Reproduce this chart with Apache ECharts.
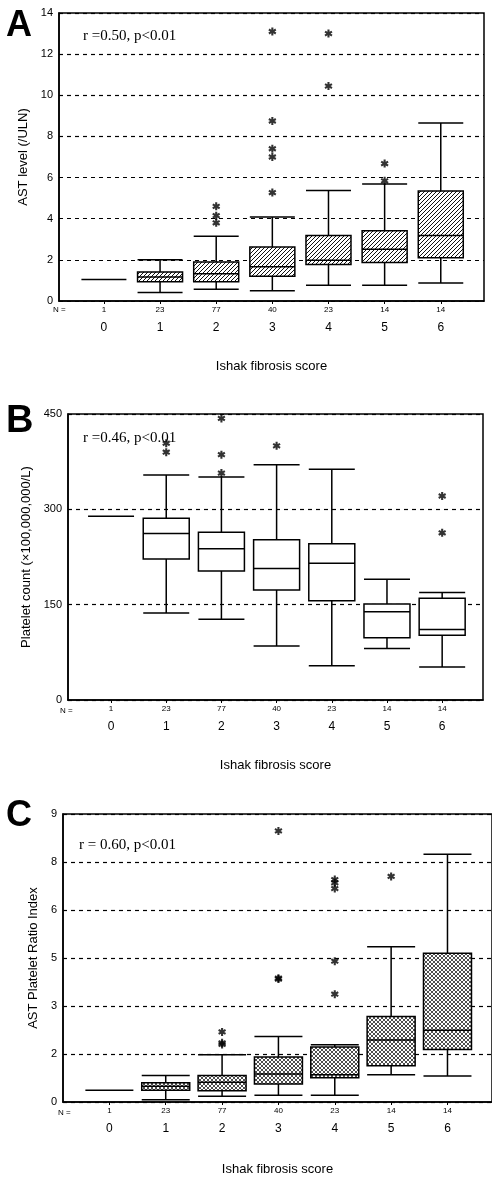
<!DOCTYPE html>
<html>
<head>
<meta charset="utf-8">
<script src="https://cdn.jsdelivr.net/npm/echarts@6/dist/echarts.min.js"></script>
<style>
html,body{margin:0;padding:0;background:#fff;}
#chart{width:492px;height:1179px;}
</style>
</head>
<body>
<div id="chart"></div>
<script>
// ---------- data ----------
const categories = [0, 1, 2, 3, 4, 5, 6];
const nCounts = [1, 23, 77, 40, 23, 14, 14];

// AST level (/ULN): [min, Q1, median, Q3, max]
const astBoxes = [
  [1.05, 1.05, 1.05, 1.05, 1.05],
  [0.41, 0.93, 1.17, 1.41, 2.0],
  [0.57, 0.93, 1.33, 1.89, 3.15],
  [0.5, 1.2, 1.66, 2.63, 4.08],
  [0.76, 1.77, 1.98, 3.19, 5.37],
  [0.76, 1.87, 2.52, 3.41, 5.69],
  [0.88, 2.1, 3.19, 5.35, 8.65]
];
const astOutCat = [2, 2, 2, 3, 3, 3, 3, 3, 4, 4, 5, 5];
const astOutVal = [4.6, 4.15, 3.8, 13.1, 8.75, 7.4, 7.0, 5.27, 13.0, 10.45, 6.68, 5.84];

// Platelet count (x100,000,000/L)
const pltBoxes = [
  [289, 289, 289, 289, 289],
  [137, 222, 262, 286, 354],
  [127, 203, 238, 264, 351],
  [85, 173, 207, 252, 370],
  [54, 156, 215, 246, 363],
  [81, 98, 139, 151, 190],
  [52, 102, 111, 160, 169]
];
const pltOutCat = [1, 1, 2, 2, 2, 3, 6, 6];
const pltOutVal = [404, 390, 443, 386, 357, 400, 321, 263];

// AST Platelet Ratio Index (axis scale 0-9, ticks every 1.5)
const apriBoxes = [
  [0.365, 0.365, 0.365, 0.365, 0.365],
  [0.07, 0.365, 0.49, 0.6, 0.83],
  [0.18, 0.355, 0.615, 0.83, 1.48],
  [0.21, 0.56, 0.875, 1.41, 2.05],
  [0.21, 0.76, 0.855, 1.72, 1.79],
  [0.855, 1.13, 1.94, 2.67, 4.85],
  [0.81, 1.64, 2.24, 4.65, 7.74]
];
const apriOutCat = [2, 2, 2, 3, 3, 3, 4, 4, 4, 4, 4, 5];
const apriOutVal = [2.19, 1.85, 1.8, 8.47, 3.84, 3.87, 6.95, 6.85, 6.67, 4.4, 3.37, 7.05];
const apriTickLabels = ['0', '2', '3', '5', '6', '8', '9'];

// ---------- helpers ----------
const SANS = 'Liberation Sans, Arial, sans-serif';
const SERIF = 'Liberation Serif, Times New Roman, serif';

function hatch(size, dirs, color, lw) {
  const c = document.createElement('canvas');
  c.width = c.height = size;
  const g = c.getContext('2d');
  g.fillStyle = '#fff';
  g.fillRect(0, 0, size, size);
  g.strokeStyle = color;
  g.lineWidth = lw;
  g.beginPath();
  if (dirs.indexOf('/') >= 0) {
    for (let k = 0; k <= 2; k++) {
      g.moveTo(-1, k * size + 1);
      g.lineTo(size + 1, k * size - size - 1);
    }
  }
  if (dirs.indexOf('\\') >= 0) {
    for (let k = -1; k <= 1; k++) {
      g.moveTo(-1, -1 + k * size);
      g.lineTo(size + 1, size + 1 + k * size);
    }
  }
  g.stroke();
  return { image: c, repeat: 'repeat' };
}

const ASTERISK = 'path://M1.3,5L-1.3,5L-1.3,2.252L-3.68,3.626L-4.98,1.374L-2.6,0' +
  'L-4.98,-1.374L-3.68,-3.626L-1.3,-2.252L-1.3,-5L1.3,-5L1.3,-2.252' +
  'L3.68,-3.626L4.98,-1.374L2.6,0L4.98,1.374L3.68,3.626L1.3,2.252Z';

function xAx(gi, min, max, gap) {
  return {
    gridIndex: gi, type: 'value', min: min, max: max,
    axisLine: { show: true, onZero: false, lineStyle: { color: '#000', width: 1.5 } },
    axisTick: { show: true, customValues: categories, length: 3, lineStyle: { color: '#000' } },
    axisLabel: {
      customValues: categories, margin: 3, color: '#000', fontFamily: SANS,
      formatter: function (v) {
        return '{n|' + nCounts[categories.indexOf(v)] + '}\n{c|' + v + '}';
      },
      rich: {
        n: { fontSize: 8, lineHeight: 12, fontFamily: SANS, color: '#000' },
        c: { fontSize: 12, lineHeight: 24, fontFamily: SANS, color: '#000' }
      }
    },
    splitLine: { show: false },
    name: 'Ishak fibrosis score', nameLocation: 'middle', nameGap: gap,
    nameTextStyle: { fontSize: 13, color: '#000', fontFamily: SANS }
  };
}
function yAx(gi, max, interval, name, gap, fmt) {
  return {
    gridIndex: gi, type: 'value', min: 0, max: max, interval: interval,
    axisLine: { show: true, onZero: false, lineStyle: { color: '#000', width: 1.5 } },
    axisTick: { show: false },
    axisLabel: { color: '#000', fontSize: 11, fontFamily: SANS, margin: 6, formatter: fmt },
    splitLine: { show: true, lineStyle: { color: '#000', type: [4, 4], width: 1.2 } },
    name: name, nameLocation: 'middle', nameGap: gap, nameRotate: 90,
    nameTextStyle: { fontSize: 13, color: '#000', fontFamily: SANS }
  };
}
function boxSeries(idx, boxes, fill, bw) {
  return {
    type: 'boxplot', xAxisIndex: idx, yAxisIndex: idx,
    boxWidth: [bw, bw],
    itemStyle: { color: fill, borderColor: '#000', borderWidth: 1.5 },
    data: boxes.map(function (b, i) { return [categories[i]].concat(b); }),
    silent: true
  };
}
function outSeries(idx, cats, vals) {
  return {
    type: 'scatter', xAxisIndex: idx, yAxisIndex: idx,
    symbol: ASTERISK, symbolSize: [8, 8],
    itemStyle: { color: '#000' },
    data: cats.map(function (c, i) { return [c, vals[i]]; }),
    silent: true
  };
}
function txt(x, y, s, size, family, weight) {
  return {
    type: 'text', x: x, y: y,
    style: { text: s, fontSize: size, fontFamily: family, fontWeight: weight || 'normal',
      fill: '#000', verticalAlign: 'middle', align: 'left' }
  };
}

const chart = echarts.init(document.getElementById('chart'), null, { renderer: 'canvas' });
chart.setOption({
  animation: false,
  backgroundColor: '#fff',
  grid: [
    { left: 59, top: 13, width: 425, height: 288, show: true, borderColor: '#000', borderWidth: 1.5 },
    { left: 68, top: 414, width: 415, height: 286, show: true, borderColor: '#000', borderWidth: 1.5 },
    { left: 63, top: 814, width: 435, height: 288, show: true, borderColor: '#000', borderWidth: 1.5 }
  ],
  xAxis: [
    xAx(0, -0.80, 6.77, 59),
    xAx(1, -0.78, 6.74, 59),
    xAx(2, -0.823, 6.79, 61)
  ],
  yAxis: [
    yAx(0, 14, 2, 'AST level (/ULN)', 26),
    yAx(1, 450, 150, 'Platelet count (\u00d7100,000,000/L)', 35),
    yAx(2, 9, 1.5, 'AST Platelet Ratio Index', 20, function (v) {
      return apriTickLabels[Math.round(v / 1.5)];
    })
  ],
  series: [
    boxSeries(0, astBoxes, hatch(4, '/', '#111', 1), 45),
    outSeries(0, astOutCat, astOutVal),
    boxSeries(1, pltBoxes, '#fff', 46),
    outSeries(1, pltOutCat, pltOutVal),
    boxSeries(2, apriBoxes, hatch(4, '/\\', '#222', 0.8), 48),
    outSeries(2, apriOutCat, apriOutVal)
  ],
  graphic: [
    txt(6, 26, 'A', 36, SANS, 'bold'),
    txt(6, 422, 'B', 38, SANS, 'bold'),
    txt(6, 816, 'C', 36, SANS, 'bold'),
    txt(83, 36, 'r =0.50, p<0.01', 15, SERIF),
    txt(83, 438, 'r =0.46, p<0.01', 15, SERIF),
    txt(79, 845, 'r = 0.60, p<0.01', 15, SERIF),
    txt(53, 310, 'N =', 8, SANS),
    txt(60, 711, 'N =', 8, SANS),
    txt(58, 1113, 'N =', 8, SANS)
  ]
});
</script>
</body>
</html>
